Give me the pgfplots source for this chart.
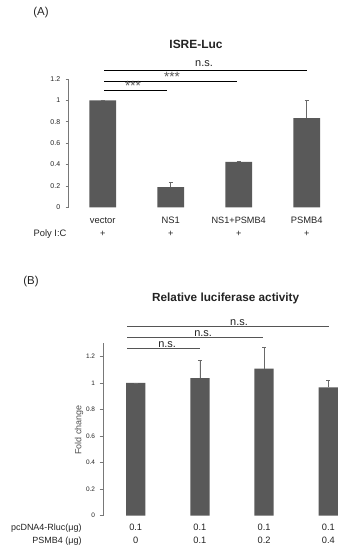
\documentclass[border=0pt]{standalone}
\usepackage{pgfplots}
\pgfplotsset{compat=1.18}
\usepackage{fontspec}
\setmainfont{Liberation Sans}
\definecolor{bargray}{RGB}{89,89,89}
\definecolor{txt}{RGB}{35,35,35}
\definecolor{errgray}{RGB}{105,105,105}
\definecolor{axgray}{RGB}{120,120,120}
\definecolor{siggray}{RGB}{85,85,85}
\newcommand{\fs}[1]{\fontsize{#1}{#1}\selectfont}
\begin{document}
\begin{tikzpicture}
% ---------- Panel A ----------
\node[font=\fs{11.5}, text=txt] at (41bp,537bp) {(A)};
\node[font=\bfseries\fs{12}, text=txt] at (196bp,506bp) {ISRE-Luc};
\begin{axis}[
  at={(102.7bp,342.7bp)}, anchor=origin,
  width=272bp, height=128.3bp, scale only axis,
  xmin=-0.5, xmax=3.5, ymin=0, ymax=1.2, enlargelimits=false,
  axis lines*=left,
  x axis line style={draw=none},
  y axis line style={-, draw=axgray, line width=0.6pt},
  xtick=\empty,
  ytick={0,0.2,0.4,0.6,0.8,1,1.2},
  ytick style={draw=axgray, line width=0.6pt},
  tick align=outside, major tick length=3bp,
  yticklabel style={font=\fs{7}, text=txt, xshift=-2bp},
  /pgf/number format/assume math mode=true,
  clip=false,
  ybar, bar width=26.7bp,
]
\addplot[fill=bargray, draw=none,
  error bars/.cd, y dir=plus, y explicit,
  error bar style={errgray, line width=0.8pt},
  error mark options={rotate=90, errgray, mark size=2bp, line width=0.8pt}]
  coordinates {(0,1.0) +- (0,0.004) (1,0.188) +- (0,0.046) (2,0.425) +- (0,0.004) (3,0.833) +- (0,0.167)};
% significance
\draw[black, line width=1.0pt] (axis cs:0.02,1.284) -- (axis cs:3.0,1.284);
\draw[black, line width=1.0pt] (axis cs:0.02,1.175) -- (axis cs:1.97,1.175);
\draw[black, line width=1.0pt] (axis cs:0.02,1.090) -- (axis cs:0.945,1.090);
\node[anchor=base, font=\fs{11}, text=txt, inner sep=0] at (axis cs:1.49,1.317) {n.s.};
\node[anchor=base, font=\fs{13.5}, text=siggray, inner sep=0] at (axis cs:1.02,1.178) {***};
\node[anchor=base, font=\fs{13.5}, text=siggray, inner sep=0] at (axis cs:0.445,1.090) {***};
% category labels
\node[anchor=base, font=\fs{9.4}, text=txt, inner sep=0] at (axis cs:0,-0.15) {vector};
\node[anchor=base, font=\fs{9.4}, text=txt, inner sep=0] at (axis cs:1,-0.15) {NS1};
\node[anchor=base, font=\fs{9.2}, text=txt, inner sep=0] at (axis cs:2,-0.15) {NS1+PSMB4};
\node[anchor=base, font=\fs{9.4}, text=txt, inner sep=0] at (axis cs:3,-0.15) {PSMB4};
\node[anchor=base east, font=\fs{9.4}, text=txt, inner sep=0] at (axis cs:-0.53,-0.275) {Poly I:C};
\node[anchor=base, font=\fs{9.2}, text=txt, inner sep=0] at (axis cs:0,-0.275) {+};
\node[anchor=base, font=\fs{9.2}, text=txt, inner sep=0] at (axis cs:1,-0.275) {+};
\node[anchor=base, font=\fs{9.2}, text=txt, inner sep=0] at (axis cs:2,-0.275) {+};
\node[anchor=base, font=\fs{9.2}, text=txt, inner sep=0] at (axis cs:3,-0.275) {+};
\end{axis}
% ---------- Panel B ----------
\node[font=\fs{11.5}, text=txt] at (31bp,268bp) {(B)};
\node[font=\bfseries\fs{11.8}, text=txt] at (225.7bp,252bp) {Relative luciferase activity};
\begin{axis}[
  at={(135.7bp,34.3bp)}, anchor=origin,
  width=243.96bp, height=172.6bp, scale only axis,
  xmin=-0.5, xmax=3.3, ymin=0, ymax=1.3, enlargelimits=false,
  axis lines*=left,
  x axis line style={draw=none},
  y axis line style={-, draw=axgray, line width=0.6pt},
  xtick=\empty,
  ytick={0,0.2,0.4,0.6,0.8,1,1.2},
  ytick style={draw=axgray, line width=0.6pt},
  tick align=outside, major tick length=4bp,
  yticklabel style={font=\fs{6.5}, text=txt, xshift=-1bp},
  /pgf/number format/assume math mode=true,
  clip=false,
  ybar, bar width=19.3bp,
]
\addplot[fill=bargray, draw=none,
  error bars/.cd, y dir=plus, y explicit,
  error bar style={errgray, line width=0.8pt},
  error mark options={rotate=90, errgray, mark size=2bp, line width=0.8pt}]
  coordinates {(0,1.0) +- (0,0) (1,1.037) +- (0,0.135) (2,1.107) +- (0,0.158) (3,0.967) +- (0,0.053)};
\draw[siggray, line width=0.9pt] (axis cs:-0.135,1.423) -- (axis cs:3.01,1.423);
\draw[siggray, line width=0.9pt] (axis cs:-0.135,1.340) -- (axis cs:1.99,1.340);
\draw[siggray, line width=0.9pt] (axis cs:-0.135,1.261) -- (axis cs:1.0,1.261);
\node[anchor=base, font=\fs{11}, text=txt, inner sep=0] at (axis cs:1.61,1.431) {n.s.};
\node[anchor=base, font=\fs{11}, text=txt, inner sep=0] at (axis cs:1.05,1.348) {n.s.};
\node[anchor=base, font=\fs{11}, text=txt, inner sep=0] at (axis cs:0.49,1.268) {n.s.};
\node[rotate=90, font=\fs{9}, text=txt!80!white] at (axis cs:-0.883,0.645) {Fold change};
\node[anchor=base east, font=\fs{9}, text=txt, inner sep=0] at (axis cs:-0.841,-0.108) {pcDNA4-Rluc(μg)};
\node[anchor=base east, font=\fs{9}, text=txt, inner sep=0] at (axis cs:-0.841,-0.208) {PSMB4 (μg)};
\node[anchor=base, font=\fs{9.3}, text=txt, inner sep=0] at (axis cs:0,-0.108) {0.1};
\node[anchor=base, font=\fs{9.3}, text=txt, inner sep=0] at (axis cs:1,-0.108) {0.1};
\node[anchor=base, font=\fs{9.3}, text=txt, inner sep=0] at (axis cs:2,-0.108) {0.1};
\node[anchor=base, font=\fs{9.3}, text=txt, inner sep=0] at (axis cs:3,-0.108) {0.1};
\node[anchor=base, font=\fs{9.3}, text=txt, inner sep=0] at (axis cs:0,-0.208) {0};
\node[anchor=base, font=\fs{9.3}, text=txt, inner sep=0] at (axis cs:1,-0.208) {0.1};
\node[anchor=base, font=\fs{9.3}, text=txt, inner sep=0] at (axis cs:2,-0.208) {0.2};
\node[anchor=base, font=\fs{9.3}, text=txt, inner sep=0] at (axis cs:3,-0.208) {0.4};
\end{axis}
\pgfresetboundingbox
\useasboundingbox (0,0) rectangle (356bp,550bp);
\end{tikzpicture}
\end{document}
